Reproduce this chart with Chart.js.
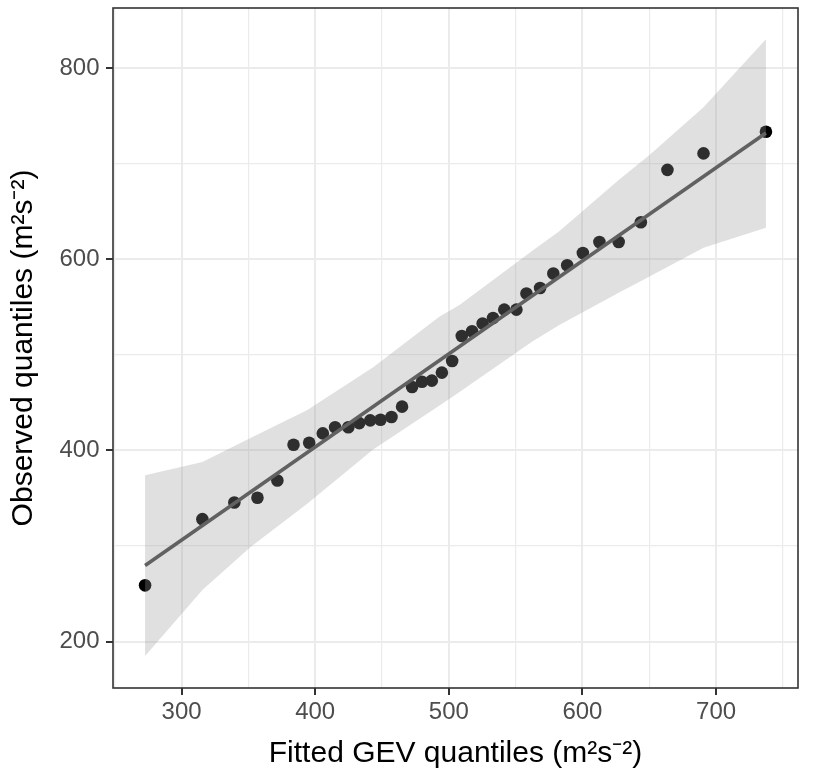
<!DOCTYPE html>
<html><head><meta charset="utf-8">
<script src="https://cdn.jsdelivr.net/npm/chart.js@4/dist/chart.umd.min.js"></script>
<style>html,body{margin:0;padding:0;background:#fff}#wrap{width:822px;height:784px}</style>
</head><body><div id="wrap"><canvas id="c" width="822" height="784"></canvas></div>
<script>
// Fitted GEV quantiles (x) and observed quantiles (y)
const fittedGEV = [272.7, 315.6, 339.5, 356.8, 371.7, 383.8, 395.5, 405.7, 414.9, 424.8, 433.0, 441.2, 448.9, 457.1, 465.0, 472.5, 479.9, 487.3, 494.8, 502.5, 509.7, 517.4, 525.3, 533.1, 541.5, 550.6, 558.1, 568.3, 578.2, 588.6, 600.3, 612.7, 627.1, 643.7, 663.6, 690.6, 737.3];
const observed  = [258.9, 328.1, 345.5, 350.5, 368.6, 406.0, 408.1, 417.8, 424.3, 424.3, 428.6, 431.4, 432.1, 434.9, 445.8, 466.3, 471.9, 473.0, 481.4, 493.5, 519.7, 524.6, 532.7, 538.5, 547.3, 547.3, 564.1, 569.9, 585.0, 593.7, 606.6, 618.0, 618.0, 638.7, 693.5, 710.7, 733.3];
// Confidence band edges
const ribbonX     = [272.7, 315.6, 351.6, 393.8, 443.4, 493.1, 508.0, 562.5, 582.4, 627.1, 650.2, 690.6, 737.3];
const ribbonLower = [185, 254, 299, 344, 401, 447, 461, 514, 531, 565, 582, 612, 633];
const ribbonUpper = [374, 388, 413, 442, 487, 540, 552, 609, 629, 683, 709, 759, 830];
// Fitted line end points
const fitX = [272.7, 737.3];
const fitY = [279.6, 732.0];
// Ticks
const xMajorTicks = [300, 400, 500, 600, 700];
const xMinorTicks = [250, 350, 450, 550, 650, 750];
const yMajorTicks = [200, 400, 600, 800];
const yMinorTicks = [300, 500, 700];
const xTitle = 'Fitted GEV quantiles (m²s⁻²)';
const yTitle = 'Observed quantiles (m²s⁻²)';

const FONT = '"Liberation Sans", Arial, Helvetica, sans-serif';
const isMajor = (arr, ctx) => !!(ctx && ctx.tick && arr.includes(ctx.tick.value));

const panelBorder = {
  id: 'panelBorder',
  afterDatasetsDraw(chart) {
    const {ctx, chartArea: a} = chart;
    ctx.save();
    ctx.strokeStyle = '#333333';
    ctx.lineWidth = 1.6;
    ctx.strokeRect(a.left, a.top, a.right - a.left, a.bottom - a.top);
    ctx.restore();
  }
};

function gridCfg(major) {
  return {
    color: '#EBEBEB',
    lineWidth: ctx => isMajor(major, ctx) ? 2 : 1.2,
    tickColor: ctx => isMajor(major, ctx) ? '#333333' : 'rgba(0,0,0,0)',
    tickLength: 7,
    tickWidth: 2,
    drawTicks: true
  };
}

new Chart(document.getElementById('c'), {
  type: 'scatter',
  data: {
    datasets: [
      {
        label: 'Fit',
        data: fitX.map((x, i) => ({x, y: fitY[i]})),
        showLine: true, borderColor: '#616161', borderWidth: 3.6,
        pointRadius: 0, fill: false, order: 0
      },
      {
        label: 'Lower',
        data: ribbonX.map((x, i) => ({x, y: ribbonLower[i]})),
        showLine: true, borderColor: 'rgba(0,0,0,0)', borderWidth: 0,
        pointRadius: 0, fill: false, order: 1
      },
      {
        label: 'Upper',
        data: ribbonX.map((x, i) => ({x, y: ribbonUpper[i]})),
        showLine: true, borderColor: 'rgba(0,0,0,0)', borderWidth: 0,
        pointRadius: 0, fill: '-1', backgroundColor: 'rgba(153,153,153,0.3)', order: 1
      },
      {
        label: 'Quantiles',
        data: fittedGEV.map((x, i) => ({x, y: observed[i]})),
        showLine: false, pointRadius: 6.3, pointBackgroundColor: '#000000',
        pointBorderWidth: 0, pointBorderColor: 'rgba(0,0,0,0)', order: 3
      }
    ]
  },
  options: {
    responsive: false,
    animation: false,
    devicePixelRatio: 1,
    layout: {padding: {left: 0, right: 24, top: 8, bottom: 0}},
    plugins: {legend: {display: false}, tooltip: {enabled: false}},
    scales: {
      x: {
        type: 'linear', position: 'bottom', min: 248.7, max: 761.3,
        afterBuildTicks: s => { s.ticks = xMinorTicks.concat(xMajorTicks).sort((a, b) => a - b).map(v => ({value: v})); },
        afterFit: s => { s.height = 96; s.paddingLeft = 0; s.paddingRight = 0; },
        ticks: {
          callback: v => xMajorTicks.includes(v) ? String(v) : '',
          color: '#4D4D4D', font: {family: FONT, size: 24}, padding: 3,
          maxRotation: 0, autoSkip: false
        },
        grid: gridCfg(xMajorTicks),
        border: {display: false},
        title: {display: true, text: xTitle, color: '#000000', font: {family: FONT, size: 30}, padding: {top: 0, bottom: 12}}
      },
      y: {
        type: 'linear', position: 'left', min: 151.5, max: 862.8,
        afterBuildTicks: s => { s.ticks = yMinorTicks.concat(yMajorTicks).sort((a, b) => a - b).map(v => ({value: v})); },
        afterFit: s => { s.width = 113; s.paddingTop = 0; s.paddingBottom = 0; },
        ticks: {
          callback: v => yMajorTicks.includes(v) ? String(v) : '',
          color: '#4D4D4D', font: {family: FONT, size: 24}, padding: 6.5, autoSkip: false
        },
        grid: gridCfg(yMajorTicks),
        border: {display: false},
        title: {display: true, text: yTitle, color: '#000000', font: {family: FONT, size: 30}, padding: {top: 6, bottom: 0}}
      }
    }
  },
  plugins: [panelBorder]
});
</script>
</body></html>
